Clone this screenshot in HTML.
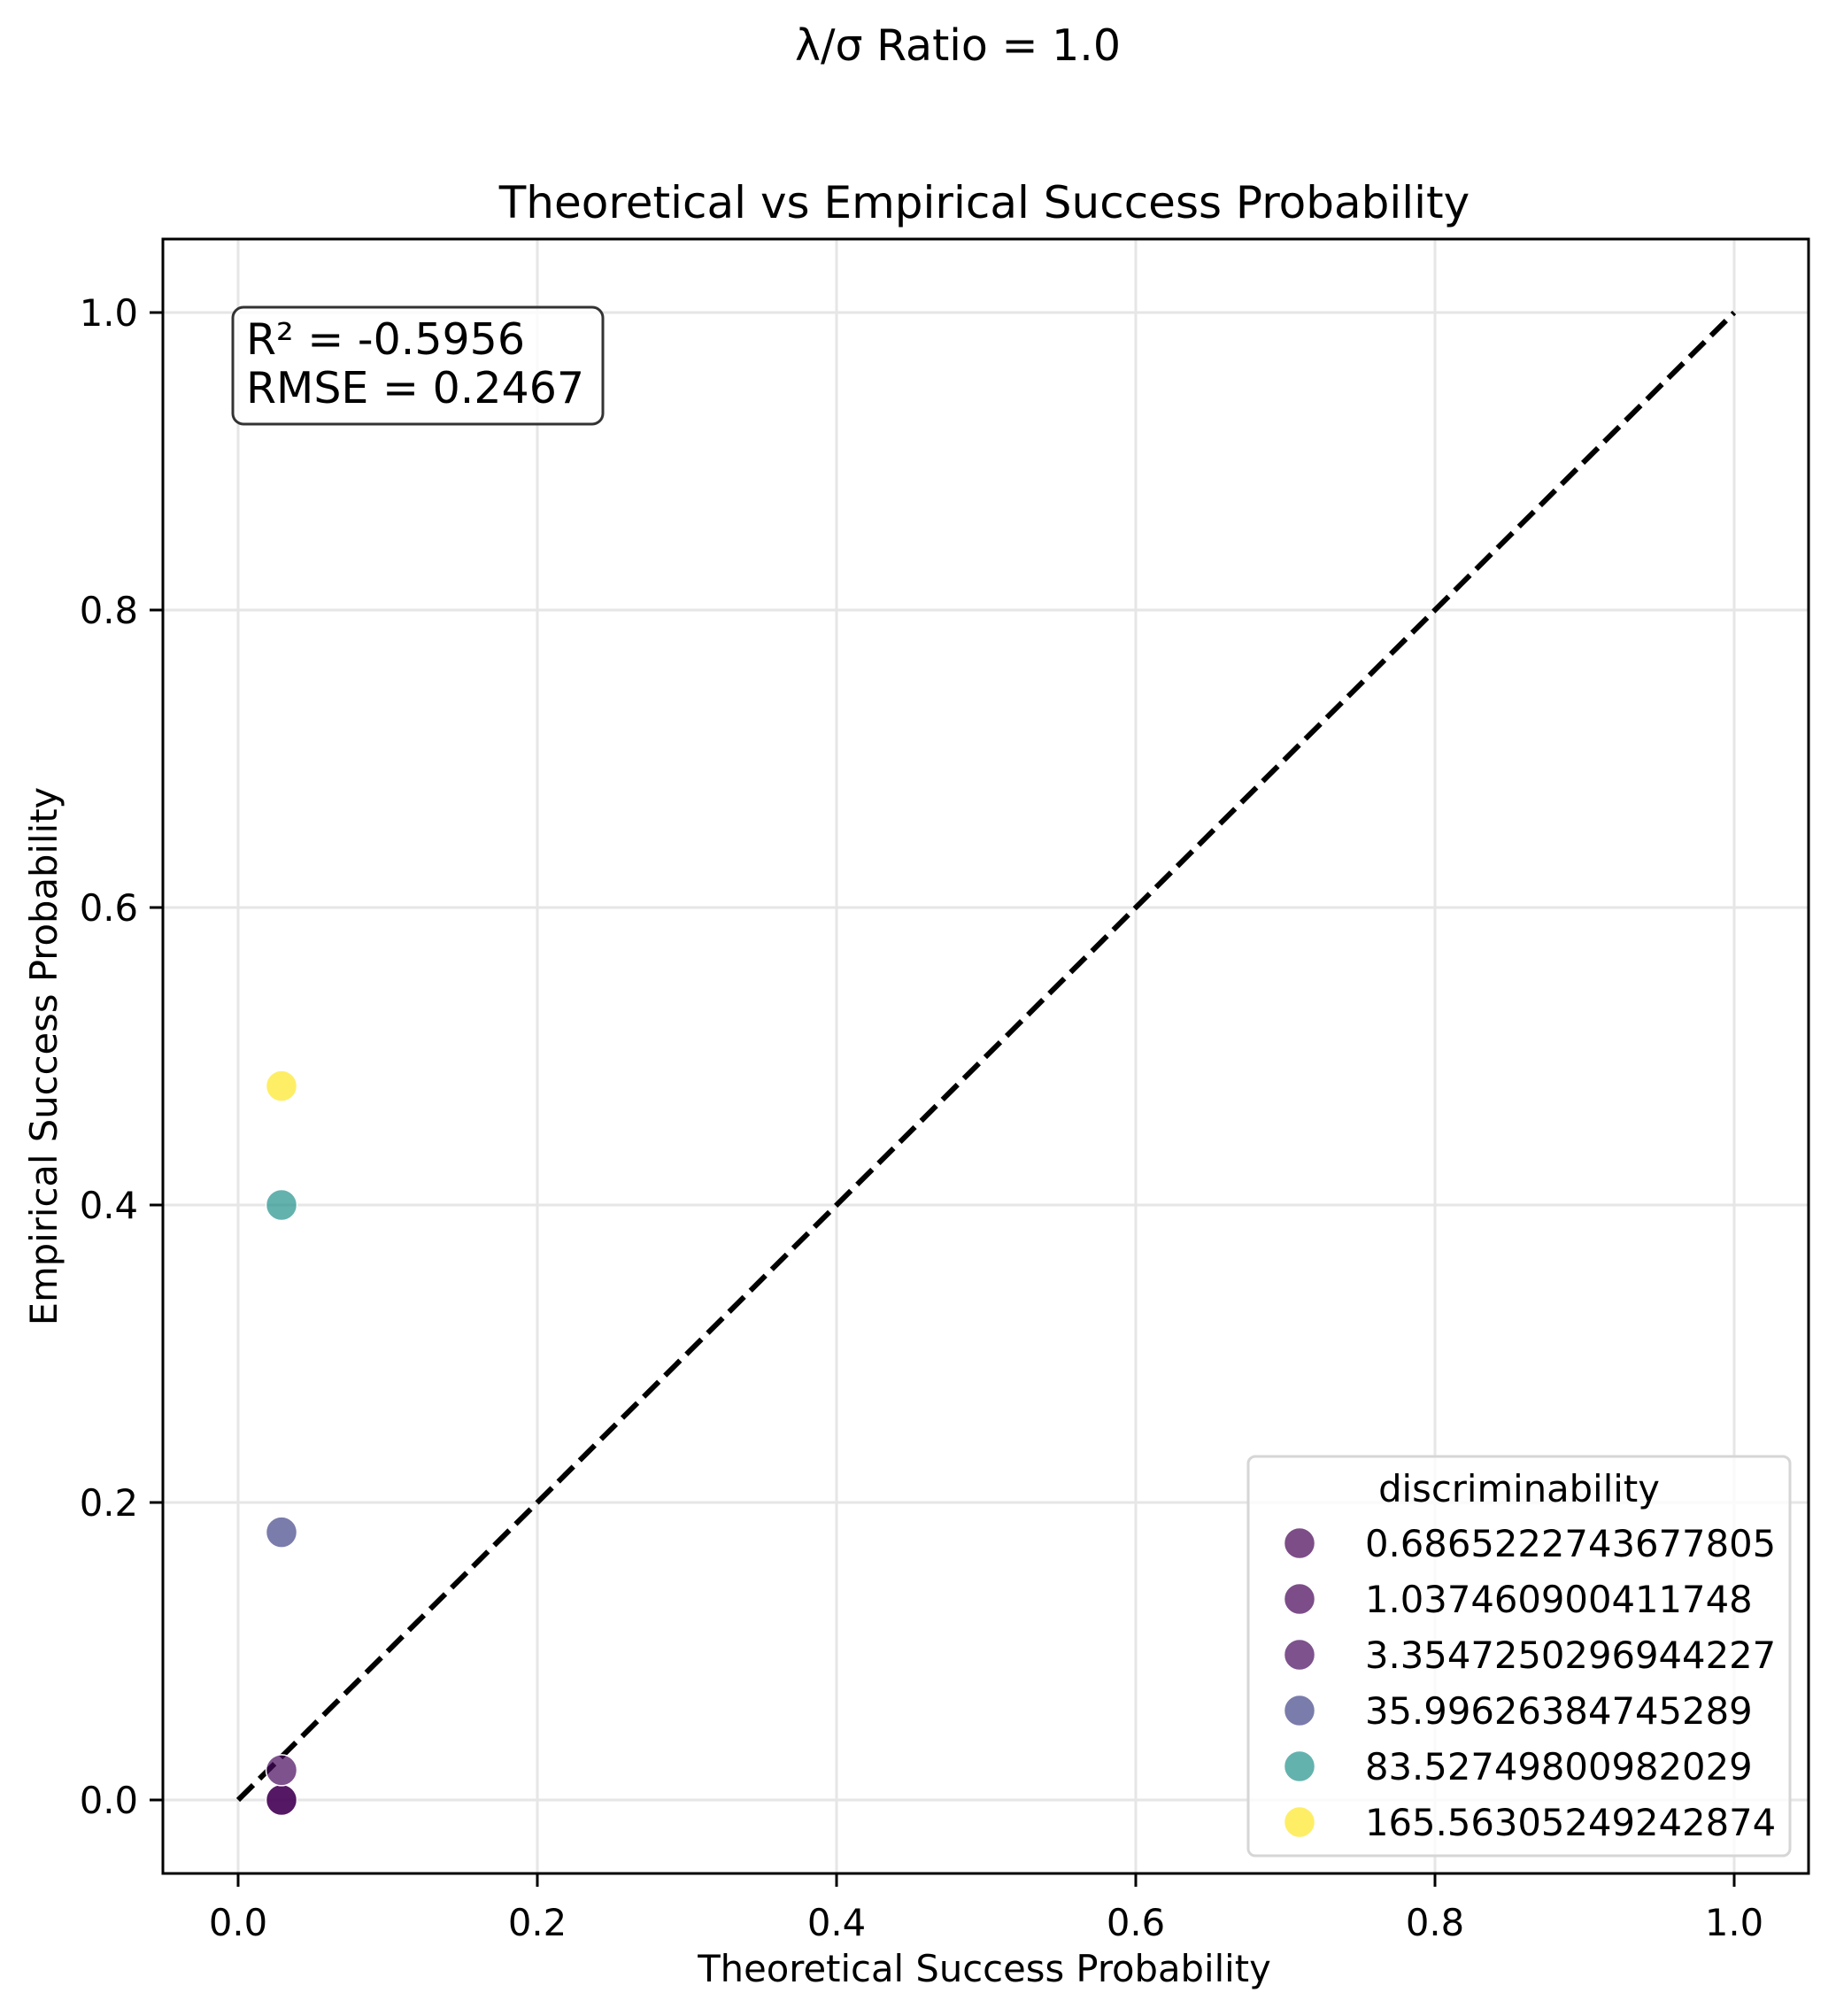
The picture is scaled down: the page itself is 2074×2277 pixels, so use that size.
<!DOCTYPE html>
<html><head><meta charset="utf-8"><style>
body{margin:0;background:#fff}
svg{display:block;font-family:"DejaVu Sans","Liberation Sans",sans-serif}
</style></head><body>
<svg id="chart" width="2074" height="2277" viewBox="0 0 2074 2277" xmlns="http://www.w3.org/2000/svg">
<rect width="2074" height="2277" fill="#fff"/>
<text x="1082" y="68" font-size="49" text-anchor="middle">λ/σ Ratio = 1.0</text>
<text x="1112" y="246" font-size="50" text-anchor="middle">Theoretical vs Empirical Success Probability</text>
<g id="grid"></g>
<g id="ticks"></g>
<g id="diag"></g>
<g id="points"></g>
<rect x="184" y="270" width="1859" height="1846" fill="none" stroke="#000" stroke-width="3"/>
<text x="1112" y="2238" font-size="41.7" text-anchor="middle">Theoretical Success Probability</text>
<text transform="translate(64,1193) rotate(-90)" font-size="41.7" text-anchor="middle">Empirical Success Probability</text>
<g>
<rect x="263" y="347" width="418" height="132" rx="12" fill="#fff" fill-opacity="0.8" stroke="#333" stroke-width="3"/>
<text x="278" y="400" font-size="49">R² = -0.5956</text>
<text x="278" y="455" font-size="49">RMSE = 0.2467</text>
</g>
<g id="legend">
<rect x="1410" y="1645" width="612" height="451" rx="8" fill="#fff" fill-opacity="0.8" stroke="#d6d6d6" stroke-width="3"/>
<text x="1716" y="1696" font-size="41.7" text-anchor="middle">discriminability</text>
</g>
</svg>
<script>
const xTicks=[0.0,0.2,0.4,0.6,0.8,1.0];
const yTicks=[0.0,0.2,0.4,0.6,0.8,1.0];
const tickLabels=["0.0","0.2","0.4","0.6","0.8","1.0"];
const categories=["0.6865222743677805","1.037460900411748","3.3547250296944227","35.99626384745289","83.52749800982029","165.56305249242874"];
const theoretical=[0.029,0.029,0.029,0.029,0.029,0.029];
const empirical=[0.0,0.0,0.02,0.18,0.40,0.48];
const colors=["#440154","#440256","#46085c","#414487","#21918c","#fde725"];
const NS="http://www.w3.org/2000/svg";
const X=v=>269+v*1690, Y=v=>2033-v*1680;
function mk(t,a,p){const e=document.createElementNS(NS,t);for(const k in a)e.setAttribute(k,a[k]);p.appendChild(e);return e;}
const grid=document.getElementById('grid'),ticks=document.getElementById('ticks');
xTicks.forEach((v,i)=>{
 const g=mk('line',{x1:X(v),x2:X(v),y1:270,y2:2116,stroke:'#e6e6e6','stroke-width':3},grid);
 
 
 const t=mk('line',{x1:X(v),x2:X(v),y1:2116,y2:2131,stroke:'#000','stroke-width':3},ticks);
 
 
 const l=mk('text',{x:X(v),y:2186,'font-size':41.7,'text-anchor':'middle'},ticks);l.textContent=tickLabels[i];
 
 
});
yTicks.forEach((v,i)=>{
 const g=mk('line',{x1:184,x2:2043,y1:Y(v),y2:Y(v),stroke:'#e6e6e6','stroke-width':3},grid);
 
 
 const t=mk('line',{x1:169,x2:184,y1:Y(v),y2:Y(v),stroke:'#000','stroke-width':3},ticks);
 
 
 const l=mk('text',{x:156,y:Y(v)+15,'font-size':41.7,'text-anchor':'end'},ticks);l.textContent=tickLabels[i];
 
 
});
const d=mk('line',{x1:X(0),y1:Y(0),x2:X(1),y2:Y(1),stroke:'#000','stroke-width':6,'stroke-dasharray':'24 10'},document.getElementById('diag'));


const pts=document.getElementById('points');
theoretical.forEach((v,i)=>{
 const c=mk('circle',{cx:X(v),cy:Y(empirical[i]),r:17.5,fill:colors[i],'fill-opacity':0.7,stroke:'#fff','stroke-width':1.5},pts);
 
 
});
const lg=document.getElementById('legend');
categories.forEach((c,i)=>{
 const y=1743+i*63;
 const m=mk('circle',{cx:1468,cy:y,r:17.5,fill:colors[i],'fill-opacity':0.7,stroke:'#fff','stroke-width':1.5},lg);
 
 
 const t=mk('text',{x:1542,y:y+15,'font-size':41.7},lg);t.textContent=c;
 
 
});
</script>
</body></html>
